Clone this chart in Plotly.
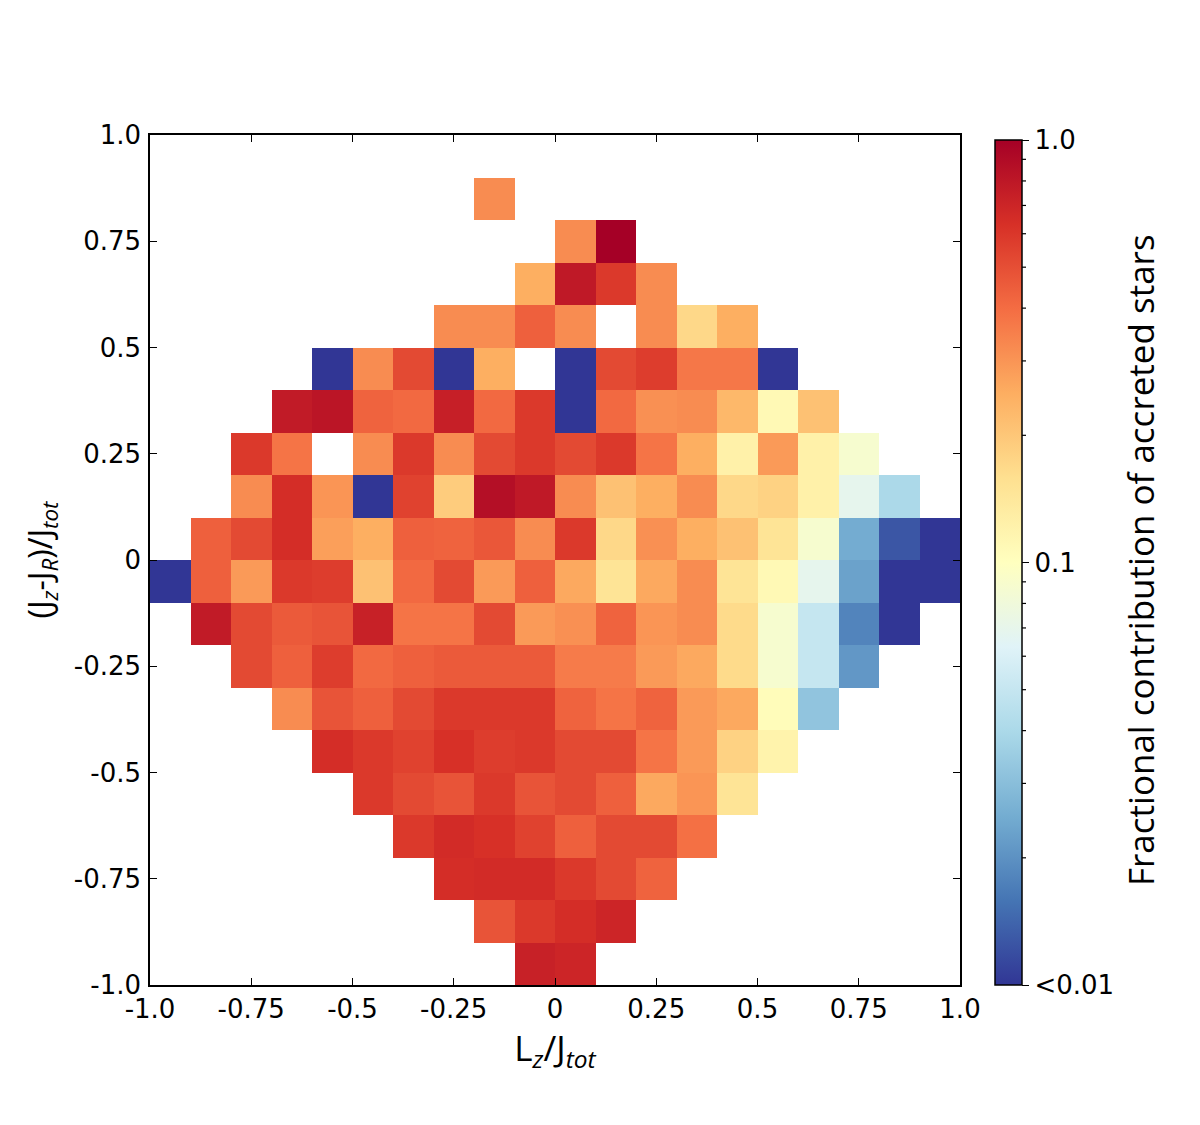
import numpy as np
import plotly.graph_objects as go

N = None
# Bin centres (L_z/J_tot) and ((J_z-J_R)/J_tot), rows listed from top (y=0.95) to bottom (y=-0.95)
lz_centers = [-0.95, -0.85, -0.75, -0.65, -0.55, -0.45, -0.35, -0.25, -0.15, -0.05,
              0.05, 0.15, 0.25, 0.35, 0.45, 0.55, 0.65, 0.75, 0.85, 0.95]
jzr_centers = [0.95, 0.85, 0.75, 0.65, 0.55, 0.45, 0.35, 0.25, 0.15, 0.05,
               -0.05, -0.15, -0.25, -0.35, -0.45, -0.55, -0.65, -0.75, -0.85, -0.95]

row_p095 = [N,N,N,N,N,N,N,N,N,N,N,N,N,N,N,N,N,N,N,N]
row_p085 = [N,N,N,N,N,N,N,N,.32,N,N,N,N,N,N,N,N,N,N,N]
row_p075 = [N,N,N,N,N,N,N,N,N,N,.32,1.0,N,N,N,N,N,N,N,N]
row_p065 = [N,N,N,N,N,N,N,N,N,.25,.79,.59,.32,N,N,N,N,N,N,N]
row_p055 = [N,N,N,N,N,N,N,.32,.32,.44,.32,N,.32,.17,.25,N,N,N,N,N]
row_p045 = [N,N,N,N,.01,.32,.52,.01,.25,N,.01,.52,.57,.37,.37,.01,N,N,N,N]
row_p035 = [N,N,N,.77,.82,.43,.41,.74,.41,.59,.01,.41,.31,.32,.23,.11,.21,N,N,N]
row_p025 = [N,N,.59,.38,N,.32,.59,.32,.52,.59,.52,.59,.38,.25,.124,.29,.124,.088,N,N]
row_p015 = [N,N,.32,.65,.30,.01,.55,.19,.87,.79,.32,.21,.25,.32,.17,.18,.124,.069,.04,N]
row_p005 = [N,.44,.52,.65,.28,.25,.44,.43,.47,.32,.59,.17,.31,.25,.21,.15,.088,.025,.0126,.01]
row_m005 = [.01,.44,.29,.59,.57,.21,.41,.52,.29,.44,.26,.15,.26,.32,.15,.11,.069,.023,.01,.01]
row_m015 = [N,.77,.52,.46,.48,.73,.38,.38,.52,.29,.31,.43,.30,.32,.166,.088,.05,.018,.01,N]
row_m025 = [N,N,.52,.44,.57,.41,.44,.46,.46,.46,.36,.36,.29,.26,.166,.088,.05,.021,N,N]
row_m035 = [N,N,N,.32,.48,.44,.52,.59,.59,.59,.43,.38,.43,.29,.26,.105,.032,N,N,N]
row_m045 = [N,N,N,N,.65,.59,.55,.63,.57,.59,.52,.52,.38,.29,.18,.12,N,N,N,N]
row_m055 = [N,N,N,N,N,.59,.52,.48,.59,.48,.52,.44,.26,.30,.15,N,N,N,N,N]
row_m065 = [N,N,N,N,N,N,.59,.66,.63,.55,.44,.52,.52,.39,N,N,N,N,N,N]
row_m075 = [N,N,N,N,N,N,N,.65,.66,.66,.59,.52,.43,N,N,N,N,N,N,N]
row_m085 = [N,N,N,N,N,N,N,N,.48,.59,.65,.70,N,N,N,N,N,N,N,N]
row_m095 = [N,N,N,N,N,N,N,N,N,.73,.70,N,N,N,N,N,N,N,N,N]

rows = [row_p095, row_p085, row_p075, row_p065, row_p055, row_p045, row_p035, row_p025,
        row_p015, row_p005, row_m005, row_m015, row_m025, row_m035, row_m045, row_m055,
        row_m065, row_m075, row_m085, row_m095]

axis_tickvals = [-1.0, -0.75, -0.5, -0.25, 0, 0.25, 0.5, 0.75, 1.0]
axis_ticktext = ["-1.0", "-0.75", "-0.5", "-0.25", "0", "0.25", "0.5", "0.75", "1.0"]
cb_tickvals = [0.01, 0.1, 1.0]
cb_ticktext = ["<0.01", "0.1", "1.0"]
cb_minor = [0.02, 0.03, 0.04, 0.05, 0.06, 0.07, 0.08, 0.09, 0.2, 0.3, 0.4, 0.5, 0.6, 0.7, 0.8, 0.9]
cb_title = 'Fractional contribution of accreted stars'

# RdYlBu (reversed) colour scale
rdylbu = ['#a50026', '#d73027', '#f46d43', '#fdae61', '#fee090', '#ffffbf',
          '#e0f3f8', '#abd9e9', '#74add1', '#4575b4', '#313695']
rdylbu_r = rdylbu[::-1]
colorscale = [[i / (len(rdylbu_r) - 1), c] for i, c in enumerate(rdylbu_r)]

arr = np.array([[np.nan if v is None else v for v in r] for r in rows], dtype=float)
zlog = np.log10(np.clip(arr, 0.01, 1.0))
zlist = [[None if np.isnan(v) else float(v) for v in r] for r in zlog]

W, H = 1200, 1125
ML, MR, MT, MB = 150, 240, 135, 140
PW = W - ML - MR
PH = H - MT - MB

cb_x = (995 - ML) / PW
cb_thick = 27
cb_len = 845 / PH

fig = go.Figure()
fig.add_trace(go.Heatmap(
    x=lz_centers, y=jzr_centers, z=zlist,
    zmin=-2, zmax=0, colorscale=colorscale,
    hoverongaps=False,
    colorbar=dict(
        x=cb_x, xanchor='left', xpad=0, y=0, yanchor='bottom', ypad=0,
        len=cb_len, lenmode='fraction', thickness=cb_thick,
        outlinewidth=1.5, outlinecolor='black',
        tickmode='array', tickvals=[float(np.log10(v)) for v in cb_tickvals],
        ticktext=cb_ticktext, ticks='outside', ticklen=7, tickwidth=1.2,
        tickcolor='black',
        tickfont=dict(family='DejaVu Sans', size=26, color='black'),
    ),
))

shapes = []
bar_right = cb_x + cb_thick / PW
for v in cb_minor:
    yp = (np.log10(v) + 2) / 2 * cb_len
    shapes.append(dict(type='line', xref='paper', yref='paper',
                       x0=bar_right, x1=bar_right + 4 / PW, y0=yp, y1=yp,
                       line=dict(color='black', width=1.2)))

axis_common = dict(
    range=[-1, 1], tickmode='array', tickvals=axis_tickvals, ticktext=axis_ticktext,
    ticks='inside', ticklen=7, tickwidth=1.2, tickcolor='black',
    showline=True, linecolor='black', linewidth=1.5, mirror='ticks',
    showgrid=False, zeroline=False,
    tickfont=dict(family='DejaVu Sans', size=26, color='black'),
)

fig.update_layout(
    width=W, height=H, autosize=False,
    margin=dict(l=ML, r=MR, t=MT, b=MB),
    paper_bgcolor='white', plot_bgcolor='white',
    shapes=shapes,
    annotations=[dict(text=cb_title, textangle=-90, xref='paper', yref='paper',
                      x=(1140 - ML) / PW, y=0.5, xanchor='center', yanchor='middle',
                      showarrow=False,
                      font=dict(family='Open Sans', size=35, color='black'))],
    xaxis=dict(axis_common, ticklabelstandoff=0,
               title=dict(text='L<sub><i>z</i></sub>/J<sub><i>tot</i></sub>', standoff=0,
                          font=dict(family='Open Sans', size=35, color='black'))),
    yaxis=dict(axis_common, ticklabelstandoff=2,
               title=dict(text='(J<sub><i>z</i></sub>-J<sub><i>R</i></sub>)/J<sub><i>tot</i></sub>',
                          standoff=12,
                          font=dict(family='Open Sans', size=32, color='black'))),
)

fig.write_html("out.html")
